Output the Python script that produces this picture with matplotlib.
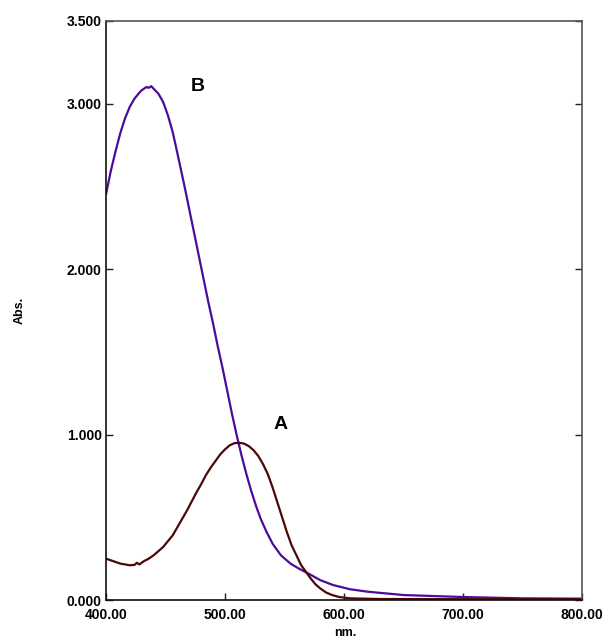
import matplotlib.pyplot as plt

# wavelength (nm) / absorbance readings for the two spectra
wl_b = [400, 404, 408, 412, 416, 420, 424, 428, 430, 432, 434, 436, 438, 440, 444,
        448, 452, 456, 460, 463, 466, 470, 474, 478, 482, 486, 490, 494, 498, 502,
        506, 510, 514, 518, 522, 526, 530, 535, 540, 547, 555, 562, 570, 580, 591,
        605, 620, 650, 700, 750, 800]
abs_b = [2.45, 2.59, 2.71, 2.82, 2.91, 2.98, 3.03, 3.065, 3.08, 3.09, 3.10, 3.095,
         3.105, 3.09, 3.06, 3.01, 2.93, 2.83, 2.70, 2.60, 2.50, 2.36, 2.22, 2.08,
         1.94, 1.80, 1.67, 1.53, 1.40, 1.26, 1.12, 0.99, 0.87, 0.76, 0.66, 0.57,
         0.49, 0.41, 0.34, 0.27, 0.22, 0.19, 0.16, 0.12, 0.09, 0.065, 0.05, 0.03,
         0.018, 0.01, 0.008]

wl_a = [400, 404, 408, 412, 416, 420, 424, 426, 428, 432, 436, 440, 444, 448, 452,
        456, 460, 464, 468, 472, 476, 480, 484, 488, 492, 496, 500, 504, 508, 512,
        516, 520, 524, 528, 532, 536, 540, 544, 548, 552, 556, 560, 564, 568, 572,
        576, 580, 585, 590, 596, 605, 630, 700, 800]
abs_a = [0.25, 0.24, 0.23, 0.22, 0.215, 0.21, 0.212, 0.225, 0.215, 0.235, 0.25,
         0.27, 0.295, 0.32, 0.355, 0.39, 0.44, 0.49, 0.54, 0.595, 0.65, 0.70, 0.755,
         0.80, 0.84, 0.88, 0.91, 0.935, 0.948, 0.95, 0.945, 0.93, 0.905, 0.87, 0.82,
         0.76, 0.68, 0.59, 0.50, 0.41, 0.33, 0.27, 0.21, 0.17, 0.13, 0.095, 0.07,
         0.045, 0.03, 0.018, 0.01, 0.006, 0.005, 0.005]

x_ticks = [400, 500, 600, 700, 800]
y_ticks = [0, 1, 2, 3, 3.5]

plt.rcParams['font.family'] = ['Liberation Sans', 'DejaVu Sans']

fig = plt.figure(figsize=(6.02, 6.40), dpi=100)
ax = fig.add_axes([0.176, 0.0625, 0.791, 0.905])

ax.plot(wl_b, abs_b, color='#4b0c9c', lw=1.6)
ax.plot(wl_a, abs_a, color='#4a0808', lw=1.6)

ax.set_xlim(400, 800)
ax.set_ylim(0, 3.5)
ax.set_xticks(x_ticks)
ax.set_xticklabels([f"{v:.2f}" for v in x_ticks], fontweight='bold', fontsize=10)
ax.set_yticks(y_ticks)
ax.set_yticklabels([f"{v:.3f}" for v in y_ticks], fontweight='bold', fontsize=10)
ax.tick_params(direction='in', length=5, width=1, color='#222222', right=True,
               pad=3)
ax.tick_params(axis='x', pad=6)

for side in ['left', 'bottom']:
    ax.spines[side].set_color('#111111')
    ax.spines[side].set_linewidth(1.2)
for side in ['top', 'right']:
    ax.spines[side].set_color('#555555')
    ax.spines[side].set_linewidth(1.2)

ax.text(477, 3.10, 'B', fontsize=14, fontweight='bold', ha='center', va='center')
ax.text(547, 1.06, 'A', fontsize=14, fontweight='bold', ha='center', va='center')

fig.text(345 / 602, 1 - 633 / 640, 'nm.', fontsize=9, fontweight='bold',
         ha='center', va='center')
fig.text(20 / 602, 1 - 310 / 640, 'Abs.', fontsize=9, fontweight='bold',
         rotation=90, ha='center', va='center')

fig.savefig('out.png', dpi=100)
